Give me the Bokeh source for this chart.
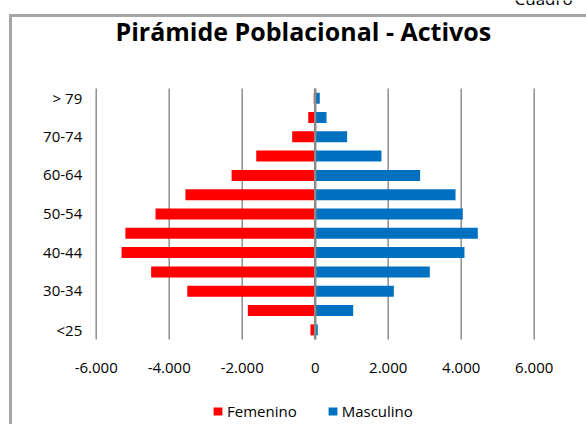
from bokeh.plotting import figure
from bokeh.models import (ColumnDataSource, Label, Legend, LegendItem, Range1d)
from bokeh.core.properties import value
from bokeh.embed import file_html
from bokeh.resources import INLINE

title_text = "Pirámide Poblacional - Activos"
corner_text = "Cuadro"
age_groups = ["<25", "25-29", "30-34", "35-39", "40-44", "45-49", "50-54",
              "55-59", "60-64", "65-69", "70-74", "75-79", "> 79"]
femenino = [-130, -1845, -3505, -4495, -5305, -5200, -4375, -3555, -2290, -1615, -630, -190, -40]
masculino = [70, 1040, 2155, 3140, 4090, 4455, 4045, 3845, 2875, 1815, 875, 310, 125]
x_ticks = [-6000, -4000, -2000, 0, 2000, 4000, 6000]
series_names = ["Femenino", "Masculino"]
series_colors = ["#FF0000", "#0070C0"]

FONT = "Open Sans"
n = len(age_groups)
idx = list(range(n))
src = ColumnDataSource(dict(y=idx, fem=femenino, mas=masculino, zero=[0] * n))
tick_labels = [f"{v:,}".replace(",", ".") for v in x_ticks]
row_lo, row_hi = -0.5, n - 0.5
tick_src = ColumnDataSource(dict(x=x_ticks, lab=tick_labels,
                                 y0=[row_lo] * len(x_ticks), y1=[row_hi] * len(x_ticks),
                                 ylab=[row_lo - 1.5] * len(x_ticks)))
cat_src = ColumnDataSource(dict(y=idx[::2], lab=age_groups[::2],
                                x=[x_ticks[0]] * len(idx[::2])))

# the plot area spans the whole canvas; axes are drawn as text marks
p = figure(width=586, height=424, output_backend="svg", toolbar_location=None,
           x_axis_location=None, y_axis_location=None,
           x_range=Range1d(-8622, 7433), y_range=Range1d(-4.902, 17.058),
           min_border_left=0, min_border_right=0, min_border_top=0, min_border_bottom=0,
           title=None)
p.background_fill_color = None
p.border_fill_color = None
p.outline_line_color = None
p.grid.visible = False
# chart-area border (left and top edges, the rest lies outside the window)
p.styles = {
    "background-color": "white",
    "background-image": "linear-gradient(#a6a6a6, #a6a6a6), linear-gradient(#a6a6a6, #a6a6a6)",
    "background-size": "3px 100%, 100% 3px",
    "background-position": "9px 14px, 9px 14px",
    "background-repeat": "no-repeat",
}

# vertical gridlines over the category band
p.segment(x0="x", x1="x", y0="y0", y1="y1", source=tick_src,
          line_color="#8e8e8e", line_width=1.5)

r1 = p.hbar(y="y", left="fem", right="zero", height=0.57, source=src,
            fill_color=series_colors[0], line_color=None)
r2 = p.hbar(y="y", left="zero", right="mas", height=0.57, source=src,
            fill_color=series_colors[1], line_color=None)

# vertical axis line at zero, on top of the bars
p.segment(x0=[0], x1=[0], y0=[row_lo], y1=[row_hi], line_color="#8a8a8a", line_width=2.5)

# value-axis tick labels
p.text(x="x", y="ylab", text="lab", source=tick_src, text_align="center",
       text_baseline="middle", text_font=value(FONT), text_font_size="15px",
       text_color="black")
# category-axis labels (every other age group, as in the original)
p.text(x="x", y="y", text="lab", source=cat_src, x_offset=-14, text_align="right",
       text_baseline="middle", text_font=value(FONT), text_font_size="15px",
       text_color="black")

legend = Legend(items=[LegendItem(label=series_names[0], renderers=[r1]),
                       LegendItem(label=series_names[1], renderers=[r2])],
                location=(212, 3), orientation="horizontal",
                glyph_width=11, glyph_height=10, label_height=12, label_standoff=4,
                spacing=30, padding=0, margin=0, border_line_color=None,
                background_fill_alpha=0, label_text_font=FONT, label_text_font_size="15px",
                label_text_color="black")
p.add_layout(legend)

p.add_layout(Label(x=115, y=393.3, x_units="screen", y_units="screen", text=title_text,
                   text_align="left", text_baseline="middle", text_font=FONT,
                   text_font_style="bold", text_font_size="25px", text_color="black"))
p.add_layout(Label(x=514, y=426.5, x_units="screen", y_units="screen", text=corner_text,
                   text_align="left", text_baseline="alphabetic", text_font=FONT,
                   text_font_size="17px", text_color="black"))

open("out.html", "w").write(file_html(p, INLINE))
